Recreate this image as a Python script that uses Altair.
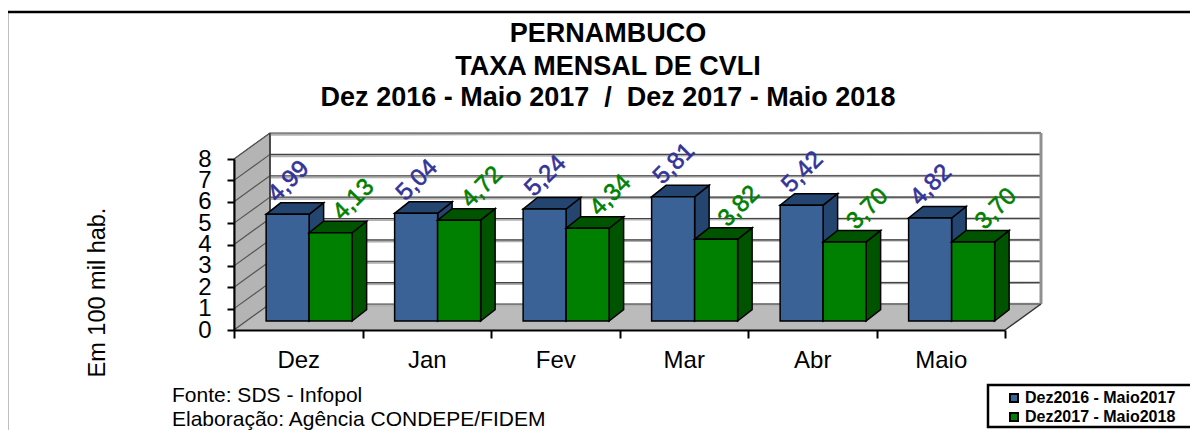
import altair as alt
import pandas as pd

categories = ["Dez", "Jan", "Fev", "Mar", "Abr", "Maio"]
series_names = ["Dez2016 - Maio2017", "Dez2017 - Maio2018"]
values_a = [4.99, 5.04, 5.24, 5.81, 5.42, 4.82]
values_b = [4.13, 4.72, 4.34, 3.82, 3.70, 3.70]
y_ticks = list(range(0, 9))
FRONT = ["#3A6297", "#008000"]
SHADE = ["#24456F", "#005400"]
LABEL = ["#333399", "#008000"]
TITLE = ["PERNAMBUCO", "TAXA MENSAL DE CVLI",
         "Dez 2016 - Maio 2017\u00a0\u00a0/\u00a0\u00a0Dez 2017 - Maio 2018"]
NOTES = ["Fonte: SDS - Infopol", "Elaboração: Agência CONDEPE/FIDEM"]

W, H = 771, 171
n = len(categories)
DX, DY = 36 / (W / n), 26 / (H / 8)      # depth of the box, in scale units
BW, BDX, BDY = 43 / (W / n), 14.5 / (W / n), 11.5 / (H / 8)
X0, BASE = 0.25, 0.42
FONT = "Liberation Sans"

xs = alt.Scale(domain=[0, n], nice=False, zero=False)
ys = alt.Scale(domain=[0, 8], nice=False, zero=False)
label_expr = "(" + str(categories) + ")[datum.value] || ''"
x_axis = alt.Axis(
    values=list(range(n + 1)), labelExpr=label_expr, labelOffset=W / n / 2, labelFont=FONT, labelFontSize=24,
    labelColor="black", labelPadding=10, tickSize=8, tickColor="black", tickWidth=2, domainColor="black",
    domainWidth=2, grid=False, labelOverlap=False, labelFlush=False, labelBound=False, zindex=1)
y_axis = alt.Axis(
    values=y_ticks, labelFont=FONT, labelFontSize=24, labelColor="black", labelPadding=16, tickSize=7,
    tickColor="black", tickWidth=2, domainColor="black", domainWidth=2, grid=False, labelOverlap=False,
    titleFont=FONT, titleFontSize=23.5, titleFontWeight="normal", titleColor="black",
    titleX=-125, titleY=133, titleAngle=270, zindex=1)
X = alt.X("x:Q", scale=xs, axis=x_axis, title=None)
X2 = alt.X2("x2:Q")
Y = alt.Y("y:Q", scale=ys, axis=y_axis, title="Em 100 mil hab.")
Y2 = alt.Y2("y2:Q")

poly = lambda pts, **kw: [dict(x=a, y=b, y2=c, **kw) for a, b, c in pts]
one = pd.DataFrame({"a": [0]})

# walls and floor
left_wall = pd.DataFrame(poly([(0, 0, 8), (DX, DY, 8 + DY)]))
floor = pd.DataFrame(poly([(0, 0, 0), (DX, 0, DY), (n, 0, DY), (n + DX, DY, DY)]))
back = pd.DataFrame([dict(x=DX, x2=n + DX, y=DY, y2=8 + DY)])
grid = pd.DataFrame([dict(x=DX, x2=n + DX, y=t + DY, y2=t + DY) for t in y_ticks])
diag = pd.DataFrame([dict(x=0, x2=DX, y=t, y2=t + DY) for t in y_ticks])
right_edge = pd.DataFrame([dict(x=n + DX, x2=n + DX, y=DY, y2=8 + DY)])
floor_edge = pd.DataFrame([dict(x=n, x2=n + DX, y=0, y2=DY), dict(x=DX, x2=DX, y=DY, y2=8 + DY)])

frame = alt.Chart(one).mark_rect(fill="white", stroke="black", strokeWidth=2.5).encode(
    x=alt.value(-227), x2=alt.value(990), y=alt.value(-147), y2=alt.value(300))

layers = [
    frame,
    alt.Chart(back).mark_rect(fill="white").encode(x=X, x2=X2, y=Y, y2=Y2),
    alt.Chart(left_wall).mark_area(fill="#B4B4B4", stroke="#444444", strokeWidth=1).encode(x=X, y=Y, y2=Y2),
    alt.Chart(floor).mark_area(fill="#BBBBBB").encode(x=X, y=Y, y2=Y2),
]
for colr, w, off in [("#B0B0B0", 2.5, 1.5), ("#444444", 1.2, 0)]:
    layers.append(alt.Chart(grid).mark_rule(color=colr, strokeWidth=w, yOffset=off).encode(x=X, x2=X2, y=Y, y2=Y2))
layers.append(alt.Chart(diag).mark_rule(color="#555555", strokeWidth=1.2).encode(x=X, x2=X2, y=Y, y2=Y2))
layers.append(alt.Chart(right_edge).mark_rule(color="#909090", strokeWidth=3).encode(x=X, x2=X2, y=Y, y2=Y2))
layers.append(alt.Chart(floor_edge).mark_rule(color="#333333", strokeWidth=1.5).encode(x=X, x2=X2, y=Y, y2=Y2))

for s, vals in enumerate([values_a, values_b]):
    side, top, front, lab = [], [], [], []
    for i, v in enumerate(vals):
        l = i + X0 + s * BW
        r = l + BW
        t = BASE + v
        side += poly([(r, BASE, t), (r + BDX, BASE + BDY, t + BDY)], bar=i)
        top += poly([(l, t, t), (l + BDX, t, t + BDY), (r, t, t + BDY), (r + BDX, t + BDY, t + BDY)], bar=i)
        front.append(dict(x=l, x2=r, y=BASE, y2=t, series=series_names[s]))
        lab.append(dict(x=(l + r) / 2, y=t, text=f"{v:.2f}".replace(".", ",")))
    for d, fill in [(side, SHADE[s]), (top, SHADE[s])]:
        layers.append(alt.Chart(pd.DataFrame(d)).mark_area(
            fill=fill, stroke="black", strokeWidth=1.5).encode(x=X, y=Y, y2=Y2, detail="bar:N"))
    layers.append(alt.Chart(pd.DataFrame(front)).mark_rect(stroke="black", strokeWidth=1.5).encode(
        x=X, x2=X2, y=Y, y2=Y2,
        fill=alt.Fill("series:N", scale=alt.Scale(domain=series_names, range=FRONT),
                      legend=alt.Legend(title=None, orient="none", legendX=772, legendY=231, padding=0,
                                        symbolType="square", symbolSize=64, symbolStrokeColor="black",
                                        symbolStrokeWidth=2, labelFont=FONT, labelFontSize=16,
                                        labelFontWeight="bold", labelColor="black", rowPadding=3,
                                        labelLimit=300, labelOffset=3))))
    layers.append(alt.Chart(pd.DataFrame(lab)).mark_text(
        angle=315, font=FONT, fontSize=24, color=LABEL[s], stroke=LABEL[s], strokeWidth=0.6,
        dx=[24, 39.6][s], dy=[-22.6, -7.07][s]).encode(x=X, y=Y, text="text:N"))

# legend box, source notes, heading
layers.append(alt.Chart(one).mark_rect(fill="transparent", stroke="black", strokeWidth=2.5).encode(
    x=alt.value(754), x2=alt.value(959), y=alt.value(226), y2=alt.value(268)))
for txt, py in zip(NOTES, [237, 261]):
    layers.append(alt.Chart(one).mark_text(
        align="left", baseline="middle", font=FONT, fontSize=21, color="black").encode(
        x=alt.value(-62), y=alt.value(py), text=alt.value(txt)))
for txt, py in zip(TITLE, [-125, -92, -61]):
    layers.append(alt.Chart(one).mark_text(
        align="center", baseline="middle", font=FONT, fontSize=27, fontWeight="bold", color="black").encode(
        x=alt.value(374), y=alt.value(py), text=alt.value(txt)))

chart = alt.layer(*layers).properties(
    width=W, height=H,
    padding={"left": 226, "top": 151, "right": 185, "bottom": 100},
    autosize=alt.AutoSizeParams(type="none"),
).configure_view(stroke=None).configure(background="white")

chart.save("out.html", embed_options={"renderer": "svg", "actions": False})
